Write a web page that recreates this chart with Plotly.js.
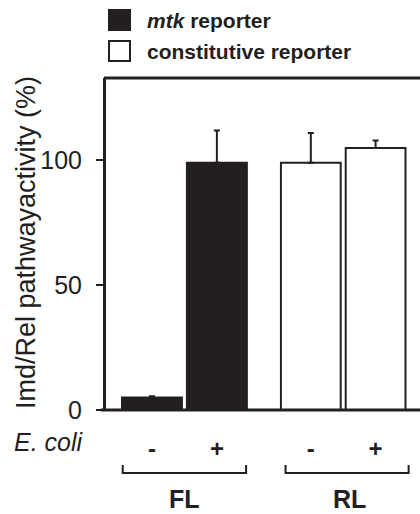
<!DOCTYPE html>
<html>
<head>
<meta charset="utf-8">
<script src="https://cdn.plot.ly/plotly-3.0.1.min.js"></script>
<style>html,body{margin:0;padding:0;background:#fff;}#chart{width:420px;height:514px;}</style>
</head>
<body>
<div id="chart"></div>
<script>
// ---- data ----
const conditions = ["-", "+"];
const groups = ["FL", "RL"];
const seriesNames = ["<i>mtk</i> reporter", "constitutive reporter"];
const mtkValues = [5, 99];
const mtkErrors = [0.5, 13];
const constValues = [99, 105];
const constErrors = [12, 3];
const yTickVals = [0, 50, 100];
const yTickText = ["0", "50", "100"];
const yTitle = "Imd/Rel pathwayactivity (%)";
const factorLabel = "E. coli";

// ---- style ----
const INK = "#231f20";
const FONT = "Liberation Sans, Arial, Helvetica, sans-serif";

const traces = [
  {
    type: "bar", name: seriesNames[0], x: conditions, y: mtkValues,
    xaxis: "x", yaxis: "y",
    marker: {color: INK, line: {color: INK, width: 2}},
    error_y: {type: "data", array: mtkErrors, symmetric: false, arrayminus: [0, 0],
              color: INK, thickness: 2, width: 3},
    showlegend: false, hoverinfo: "skip"
  },
  {
    type: "bar", name: seriesNames[1], x: conditions, y: constValues,
    xaxis: "x2", yaxis: "y",
    marker: {color: "#ffffff", line: {color: INK, width: 2}},
    error_y: {type: "data", array: constErrors, symmetric: false, arrayminus: [0, 0],
              color: INK, thickness: 2, width: 3},
    showlegend: false, hoverinfo: "skip"
  }
];

// pixel helpers for layout (plot area: 104..420 x, 78..410 y)
const PW = 316, PH = 332;
const py = (px) => (410 - px) / PH;
const pxX = (px) => (px - 104) / PW;

const xCommon = {
  type: "category", range: [-0.5, 1.5], showline: false, zeroline: false,
  showgrid: false, ticks: "", fixedrange: true, automargin: false,
  tickfont: {family: FONT, size: 24, color: INK, weight: "bold"},
  ticklabelstandoff: 22
};

const shapes = [
  // frame top & bottom
  {type: "line", xref: "paper", yref: "paper", x0: 0, x1: 1, y0: 1, y1: 1, line: {color: INK, width: 3}},
  {type: "line", xref: "paper", yref: "paper", x0: -0.01, x1: 1, y0: 0, y1: 0, line: {color: INK, width: 3}},
  // brackets
  {type: "path", xref: "x domain", yref: "paper",
   path: `M 0.025 ${py(465)} L 0.025 ${py(473)} L 0.975 ${py(473)} L 0.975 ${py(465)}`, line: {color: INK, width: 2}},
  {type: "path", xref: "x2 domain", yref: "paper",
   path: `M 0.055 ${py(465)} L 0.055 ${py(473)} L 1.005 ${py(473)} L 1.005 ${py(465)}`, line: {color: INK, width: 2}},
  // legend squares
  {type: "rect", xref: "paper", yref: "paper", x0: pxX(109), x1: pxX(130), y0: py(30), y1: py(10),
   fillcolor: INK, line: {color: INK, width: 2}},
  {type: "rect", xref: "paper", yref: "paper", x0: pxX(109), x1: pxX(130), y0: py(61), y1: py(41),
   fillcolor: "#ffffff", line: {color: INK, width: 2}}
];

const annotations = [
  {xref: "paper", yref: "paper", x: pxX(145), y: py(20), xanchor: "left", yanchor: "middle",
   text: "<b>" + seriesNames[0] + "</b>", showarrow: false, font: {family: FONT, size: 21, color: INK}},
  {xref: "paper", yref: "paper", x: pxX(145), y: py(51), xanchor: "left", yanchor: "middle",
   text: "<b>" + seriesNames[1] + "</b>", showarrow: false, font: {family: FONT, size: 21, color: INK}},
  {xref: "paper", yref: "paper", x: pxX(12), y: py(442), xanchor: "left", yanchor: "middle",
   text: "<i>" + factorLabel + "</i>", showarrow: false, font: {family: FONT, size: 25, color: INK}},
  {xref: "x domain", yref: "paper", x: 0.5, y: py(499), xanchor: "center", yanchor: "middle",
   text: "<b>" + groups[0] + "</b>", showarrow: false, font: {family: FONT, size: 25, color: INK}},
  {xref: "x2 domain", yref: "paper", x: 0.55, y: py(499), xanchor: "center", yanchor: "middle",
   text: "<b>" + groups[1] + "</b>", showarrow: false, font: {family: FONT, size: 25, color: INK}},
  // y-axis title
  {xref: "paper", yref: "paper", x: pxX(26), y: py(243), xanchor: "center", yanchor: "middle",
   textangle: -90, text: yTitle, showarrow: false, font: {family: FONT, size: 27, color: INK}}
];

const layout = {
  width: 420, height: 514,
  margin: {l: 104, r: 0, t: 78, b: 104, pad: 0},
  paper_bgcolor: "#ffffff", plot_bgcolor: "#ffffff",
  showlegend: false,
  barmode: "group", bargap: 0.077,
  xaxis: Object.assign({}, xCommon, {domain: [0.049, 0.460], anchor: "y"}),
  xaxis2: Object.assign({}, xCommon, {domain: [0.552, 0.962], anchor: "y"}),
  yaxis: {
    anchor: "free", position: 0,
    range: [0, 133], tickvals: yTickVals, ticktext: yTickText,
    showline: true, linecolor: INK, linewidth: 3, zeroline: false, showgrid: false,
    ticks: "outside", ticklen: 7, tickwidth: 2, tickcolor: INK,
    ticklabelstandoff: 9, fixedrange: true, automargin: false,
    tickfont: {family: FONT, size: 25, color: INK}
  },
  shapes: shapes,
  annotations: annotations
};

Plotly.newPlot("chart", traces, layout, {staticPlot: true, displayModeBar: false});
</script>
</body>
</html>
